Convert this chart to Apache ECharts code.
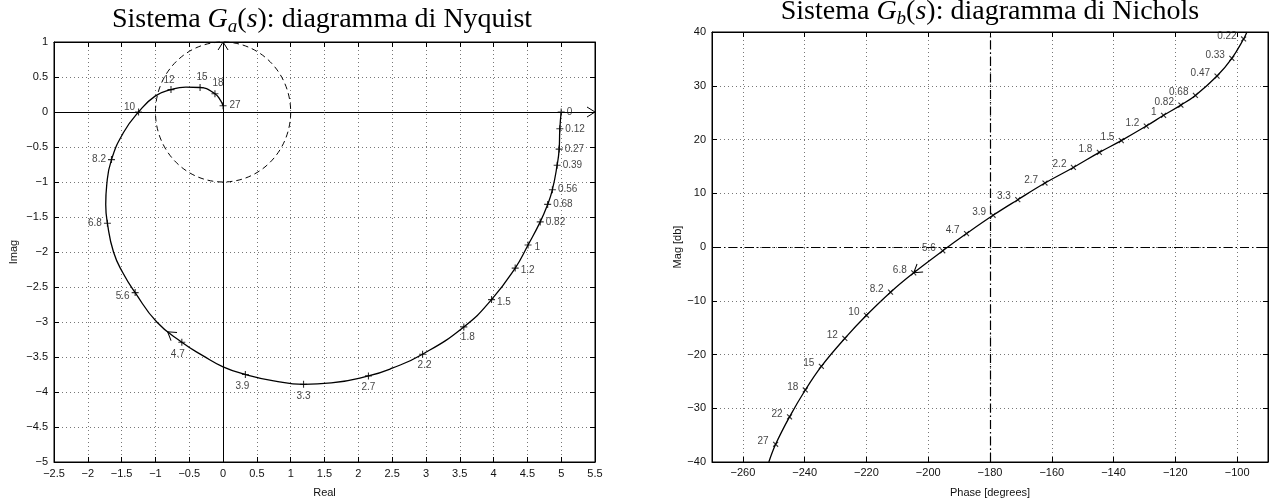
<!DOCTYPE html>
<html>
<head>
<meta charset="utf-8">
<script src="https://cdn.jsdelivr.net/npm/echarts@6/dist/echarts.min.js"></script>
<style>
    html, body { margin: 0; padding: 0; background: #fff; }
    #chart { width: 1273px; height: 503px; }
</style>
</head>
<body>
<div id="chart"></div>
<script>
// ---- Nyquist, G_a(s): curve ----
var nyqRe = [5.00, 4.98, 4.97, 4.94, 4.87, 4.80, 4.69, 4.51, 4.32, 3.97, 3.56, 2.95, 2.50, 2.15, 1.60, 1.19, 0.75, 0.33, 0.00, -0.30, -0.61, -0.98, -1.30, -1.48, -1.62, -1.71, -1.735, -1.72, -1.65, -1.47, -1.25, -1.00, -0.77, -0.55, -0.34, -0.12, -0.04, 0.00];
var nyqIm = [0.00, -0.24, -0.53, -0.76, -1.11, -1.32, -1.57, -1.90, -2.23, -2.68, -3.07, -3.46, -3.66, -3.77, -3.87, -3.89, -3.84, -3.75, -3.64, -3.48, -3.29, -3.00, -2.58, -2.30, -2.00, -1.59, -1.32, -1.04, -0.68, -0.29, 0.00, 0.23, 0.32, 0.355, 0.35, 0.26, 0.17, 0.09];
// frequency marks
var nyqFreq = ['0', '0.12', '0.27', '0.39', '0.56', '0.68', '0.82', '1', '1.2', '1.5', '1.8', '2.2', '2.7', '3.3', '3.9', '4.7', '5.6', '6.8', '8.2', '10', '12', '15', '18', '27'];
var nyqMarkRe = [5.00, 4.98, 4.97, 4.94, 4.87, 4.80, 4.69, 4.51, 4.32, 3.97, 3.56, 2.95, 2.15, 1.19, 0.33, -0.61, -1.30, -1.71, -1.65, -1.25, -0.77, -0.34, -0.12, 0.00];
var nyqMarkIm = [0.00, -0.24, -0.53, -0.76, -1.11, -1.32, -1.57, -1.90, -2.23, -2.68, -3.07, -3.46, -3.77, -3.89, -3.75, -3.29, -2.58, -1.59, -0.68, 0.00, 0.32, 0.35, 0.26, 0.09];
var nyqArrow = [-0.61, -3.29, -0.82, -3.14];
var unitCircle = [0, 0, 1];
var nyqXRange = [-2.5, 5.5];
var nyqYRange = [-5, 1];

// ---- Nichols, G_b(s) ----
var nicPhase = [-96.8, -97.9, -101.7, -106.5, -113.5, -118.2, -123.8, -129.4, -137.5, -144.6, -153.0, -162.2, -171.0, -179.0, -187.6, -195.3, -204.7, -212.2, -220.0, -227.0, -234.6, -239.8, -244.9, -249.4, -251.6];
var nicMag = [40, 38.7, 35.1, 31.8, 28.2, 26.4, 24.5, 22.5, 19.8, 17.6, 14.8, 11.9, 8.8, 5.9, 2.5, -0.7, -4.8, -8.4, -12.7, -17.0, -22.2, -26.6, -31.6, -36.7, -40];
var nicFreq = ['0.22', '0.33', '0.47', '0.68', '0.82', '1', '1.2', '1.5', '1.8', '2.2', '2.7', '3.3', '3.9', '4.7', '5.6', '6.8', '8.2', '10', '12', '15', '18', '22', '27'];
var nicMarkPhase = nicPhase.slice(1, 24);
var nicMarkMag = nicMag.slice(1, 24);
var nicArrow = [-195.3, -0.7, -204.7, -4.8];
var nicPhaseTicks = [-260, -240, -220, -200, -180, -160, -140, -120, -100];

// label placement for the Nyquist marks: [position, distance, dx, dy]
var nyqLabelPlace = [
    ['right', 2, 0, 0], ['right', 2, 0, 0], ['right', 2, 0, 0], ['right', 2, 0, 0],
    ['right', 2, 0, 0], ['right', 2, 0, 0], ['right', 2, 0, 0], ['right', 3, 0, 2],
    ['right', 2, 0, 2], ['right', 2, 0, 3], ['bottom', 2, 4, 0], ['bottom', 3, 2, 0],
    ['bottom', 3, 0, 0], ['bottom', 3, 0, 0], ['bottom', 3, -3, 0], ['bottom', 3, -4, 0],
    ['left', 2, 0, 4], ['left', 2, 0, 0], ['left', 2, 0, 0], ['left', 0, 0, -5],
    ['top', 1, -2, 0], ['top', 2, 2, 0], ['top', 2, 3, 0], ['right', 3, 0, 0]
];

var sans = 'Liberation Sans';
var serif = 'Liberation Serif';
var plus = 'path://M4.2,0 L5.8,0 L5.8,4.2 L10,4.2 L10,5.8 L5.8,5.8 L5.8,10 L4.2,10 L4.2,5.8 L0,5.8 L0,4.2 L4.2,4.2 Z';

function zip(a, b) {
    var out = [];
    for (var i = 0; i < a.length; i++) out.push([a[i], b[i]]);
    return out;
}
function fmt(v) {
    return String(v).replace('-', '\u2212');
}

function arrowItem(params, api) {
    var a = api.coord([api.value(0), api.value(1)]);
    var b = api.coord([api.value(2), api.value(3)]);
    var ang = Math.atan2(b[1] - a[1], b[0] - a[0]);
    return {
        type: 'polyline', x: b[0], y: b[1], rotation: -ang,
        shape: { points: [[-8, -5], [0, 0], [-8, 5]] },
        style: { stroke: '#000', fill: null, lineWidth: 1 }
    };
}

function circleItem(params, api) {
    var c = api.coord([api.value(0), api.value(1)]);
    var s = api.size([api.value(2), api.value(2)]);
    return {
        type: 'circle', x: c[0], y: c[1], scaleX: s[0] / s[1],
        shape: { cx: 0, cy: 0, r: s[1] },
        style: { stroke: '#000', fill: null, lineWidth: 1, lineDash: [6, 4], strokeNoScale: true }
    };
}

function valueAxis(grid, o) {
    var base = {
        gridIndex: grid, type: 'value',
        axisLine: { show: true, onZero: false, lineStyle: { color: '#000', width: 1 } },
        axisTick: { show: true, inside: true, length: 5, lineStyle: { color: '#000' } },
        axisLabel: { formatter: fmt, fontSize: 11, fontFamily: sans, color: '#111', margin: 6 },
        splitLine: { show: true, lineStyle: { color: '#777', type: [1, 3], width: 1 } },
        nameTextStyle: { fontSize: 11, fontFamily: sans, color: '#111' }
    };
    return Object.assign(base, o);
}
function mirrorAxis(grid, pos, o) {
    return Object.assign({
        gridIndex: grid, type: 'value', position: pos,
        axisLine: { show: true, onZero: false, lineStyle: { color: '#000' } },
        axisTick: { show: true, inside: true, length: 5, lineStyle: { color: '#000' } },
        axisLabel: { show: false }, splitLine: { show: false }
    }, o);
}

var nyqMarks = nyqFreq.map(function (f, i) {
    var p = nyqLabelPlace[i];
    return {
        name: f, value: [nyqMarkRe[i], nyqMarkIm[i]],
        label: { position: p[0], distance: p[1], offset: [p[2], p[3]] }
    };
});
var nicMarks = nicFreq.map(function (f, i) {
    return { name: f, value: [nicMarkPhase[i], nicMarkMag[i]] };
});

var titleRich = {
    n: { fontFamily: serif, fontWeight: 'normal', fontSize: 28, color: '#000', lineHeight: 32 },
    i: { fontFamily: serif, fontWeight: 'normal', fontStyle: 'italic', fontSize: 28, color: '#000', lineHeight: 32 },
    s: { fontFamily: serif, fontWeight: 'normal', fontStyle: 'italic', fontSize: 19, color: '#000', lineHeight: 19, padding: [13, 0, 0, 0] }
};

var chart = echarts.init(document.getElementById('chart'));
var option = {
    animation: false,
    backgroundColor: '#fff',
    title: [{
        text: '{n|Sistema }{i|G}{s|a}{n|(}{i|s}{n|): diagramma di Nyquist}',
        left: 322, top: 4, textAlign: 'center', padding: 0,
        textStyle: { fontWeight: 'normal', rich: titleRich }
    }, {
        text: '{n|Sistema }{i|G}{s|b}{n|(}{i|s}{n|): diagramma di Nichols}',
        left: 990, top: -4, textAlign: 'center', padding: 0,
        textStyle: { fontWeight: 'normal', rich: titleRich }
    }],
    grid: [
        { left: 54, right: 678, top: 42, bottom: 35, show: true, borderColor: '#000', borderWidth: 1 },
        { left: 712, right: 5, top: 32, bottom: 33, show: true, borderColor: '#000', borderWidth: 1 }
    ],
    xAxis: [
        valueAxis(0, { min: nyqXRange[0], max: nyqXRange[1], interval: 0.5, name: 'Real', nameLocation: 'middle', nameGap: 25 }),
        mirrorAxis(0, 'top', { min: nyqXRange[0], max: nyqXRange[1], interval: 0.5 }),
        valueAxis(1, {
            min: -270, max: -90, name: 'Phase [degrees]', nameLocation: 'middle', nameGap: 25,
            axisTick: { show: true, inside: true, length: 5, lineStyle: { color: '#000' }, customValues: nicPhaseTicks },
            axisLabel: { formatter: fmt, fontSize: 11, fontFamily: sans, color: '#111', margin: 5, customValues: nicPhaseTicks }
        }),
        mirrorAxis(1, 'top', { min: -270, max: -90,
            axisTick: { show: true, inside: true, length: 5, lineStyle: { color: '#000' }, customValues: nicPhaseTicks } })
    ],
    yAxis: [
        valueAxis(0, { min: nyqYRange[0], max: nyqYRange[1], interval: 0.5, name: 'Imag', nameLocation: 'middle', nameGap: 35 }),
        mirrorAxis(0, 'right', { min: nyqYRange[0], max: nyqYRange[1], interval: 0.5 }),
        valueAxis(1, { min: -40, max: 40, interval: 10, name: 'Mag [db]', nameLocation: 'middle', nameGap: 28 }),
        mirrorAxis(1, 'right', { min: -40, max: 40, interval: 10 })
    ],
    series: [
        {
            type: 'custom', xAxisIndex: 0, yAxisIndex: 0, renderItem: circleItem,
            data: [unitCircle], silent: true, clip: false, z: 2
        },
        {
            type: 'line', xAxisIndex: 0, yAxisIndex: 0, data: zip(nyqRe, nyqIm),
            showSymbol: false, smooth: 0.5, lineStyle: { color: '#000', width: 1.3 }, z: 3,
            markLine: {
                silent: true, symbol: ['none', 'none'], label: { show: false },
                lineStyle: { color: '#000', type: 'solid', width: 1 },
                data: [{ yAxis: 0 }, { xAxis: 0 }]
            }
        },
        {
            type: 'custom', xAxisIndex: 0, yAxisIndex: 0, renderItem: arrowItem, clip: false, z: 4,
            data: [nyqArrow, [nyqXRange[1] - 0.1, 0, nyqXRange[1], 0], [0, nyqYRange[1] - 0.1, 0, nyqYRange[1]]]
        },
        {
            type: 'scatter', xAxisIndex: 0, yAxisIndex: 0, data: nyqMarks,
            symbol: plus, symbolSize: 7, itemStyle: { color: '#000' }, z: 5,
            label: { show: true, formatter: '{b}', fontSize: 10, fontFamily: sans, color: '#111' }
        },
        {
            type: 'line', xAxisIndex: 2, yAxisIndex: 2, data: zip(nicPhase, nicMag),
            showSymbol: false, smooth: 0.4, lineStyle: { color: '#000', width: 1.3 }, z: 3,
            markLine: {
                silent: true, symbol: ['none', 'none'], label: { show: false },
                lineStyle: { color: '#000', type: [9, 3, 1.5, 3], width: 1.2 },
                data: [{ yAxis: 0 }, { xAxis: -180 }]
            }
        },
        {
            type: 'custom', xAxisIndex: 2, yAxisIndex: 2, renderItem: arrowItem, clip: false, z: 4,
            data: [nicArrow]
        },
        {
            type: 'scatter', xAxisIndex: 2, yAxisIndex: 2, data: nicMarks,
            symbol: plus, symbolRotate: 45, symbolSize: 7, itemStyle: { color: '#000' }, z: 5,
            label: { show: true, formatter: '{b}', position: 'left', distance: 2, offset: [0, -3],
                     fontSize: 10, fontFamily: sans, color: '#111' }
        }
    ]
};
chart.setOption(option);
</script>
</body>
</html>
